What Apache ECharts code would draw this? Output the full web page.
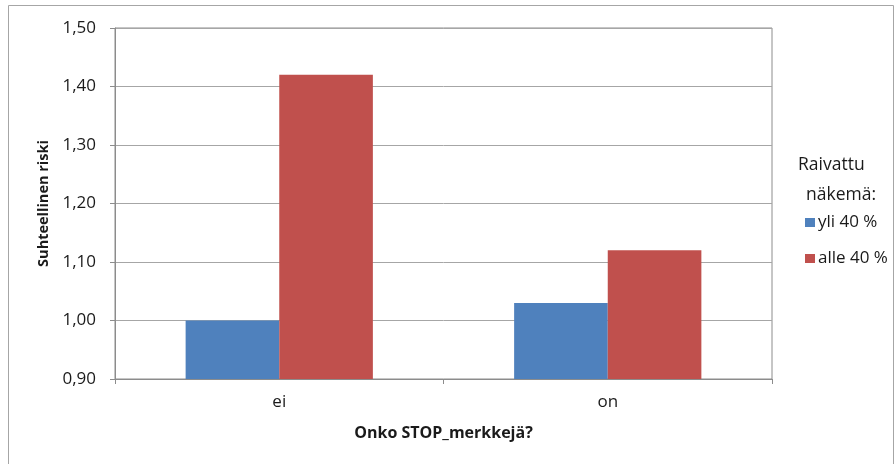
<!DOCTYPE html>
<html>
<head>
<meta charset="utf-8">
<script src="https://cdn.jsdelivr.net/npm/echarts@6/dist/echarts.min.js"></script>
<style>
  html, body { margin: 0; padding: 0; background: #fff; }
  #chart { width: 895px; height: 464px; }
</style>
</head>
<body>
<div id="chart"></div>
<script>
// Relative risk by presence of STOP signs, split by cleared sight distance
const categories = ['ei', 'on'];
const seriesNames = ['yli 40 %', 'alle 40 %'];
const yliValues = [1.00, 1.03];
const alleValues = [1.42, 1.12];
const yTicks = [0.9, 1.0, 1.1, 1.2, 1.3, 1.4, 1.5];

const FONT = '"Open Sans", Lato, sans-serif';
const TEXT = '#1a1a1a';
const chart = echarts.init(document.getElementById('chart'));

chart.setOption({
  backgroundColor: '#fff',
  animation: false,
  textStyle: { fontFamily: FONT },
  graphic: [
    {
      type: 'rect',
      shape: { x: 8.5, y: 5.5, width: 885, height: 470 },
      style: { fill: 'none', stroke: '#a6a6a6', lineWidth: 1 },
      silent: true
    },
    {
      type: 'text',
      left: 798,
      top: 156,
      style: { text: 'Raivattu', font: '17.5px ' + FONT, fill: TEXT }
    },
    {
      type: 'text',
      left: 806,
      top: 186,
      style: { text: 'näkemä:', font: '17.5px ' + FONT, fill: TEXT }
    }
  ],
  legend: {
    orient: 'vertical',
    left: 800,
    top: 209,
    itemWidth: 10,
    itemHeight: 9,
    itemGap: 19,
    icon: 'rect',
    textStyle: { fontSize: 17, color: TEXT, fontFamily: FONT, padding: [0, 0, 0, -2] },
    data: seriesNames
  },
  grid: {
    left: 115,
    right: 123,
    top: 28,
    bottom: 85,
    show: true,
    borderColor: '#8c8c8c',
    borderWidth: 1
  },
  xAxis: {
    type: 'category',
    data: categories,
    name: 'Onko STOP_merkkejä?',
    nameLocation: 'middle',
    nameGap: 46,
    nameTextStyle: { fontSize: 16, fontWeight: 'bold', color: TEXT, fontFamily: FONT },
    axisLine: { lineStyle: { color: '#8c8c8c' } },
    axisTick: { show: true, length: 5, lineStyle: { color: '#8c8c8c' } },
    axisLabel: { fontSize: 17, color: TEXT, margin: 15 }
  },
  yAxis: {
    type: 'value',
    min: 0.9,
    max: 1.5,
    interval: 0.1,
    name: 'Suhteellinen riski',
    nameLocation: 'middle',
    nameGap: 62,
    nameTextStyle: { fontSize: 14.5, fontWeight: 'bold', color: TEXT, fontFamily: FONT },
    axisLine: { show: true, lineStyle: { color: '#8c8c8c' } },
    axisTick: { show: true, length: 5, lineStyle: { color: '#8c8c8c' } },
    splitLine: { lineStyle: { color: '#a6a6a6' } },
    axisLabel: {
      fontSize: 17,
      color: TEXT,
      margin: 19,
      formatter: v => {
        const t = yTicks.find(x => Math.abs(x - v) < 1e-6);
        return (t !== undefined ? t : v).toFixed(2).replace('.', ',');
      }
    }
  },
  series: [
    {
      name: seriesNames[0],
      type: 'bar',
      data: yliValues,
      itemStyle: { color: '#4f81bd' },
      barGap: '0%',
      barCategoryGap: '43%'
    },
    {
      name: seriesNames[1],
      type: 'bar',
      data: alleValues,
      itemStyle: { color: '#c0504d' },
      barGap: '0%',
      barCategoryGap: '43%'
    }
  ]
});
</script>
</body>
</html>
